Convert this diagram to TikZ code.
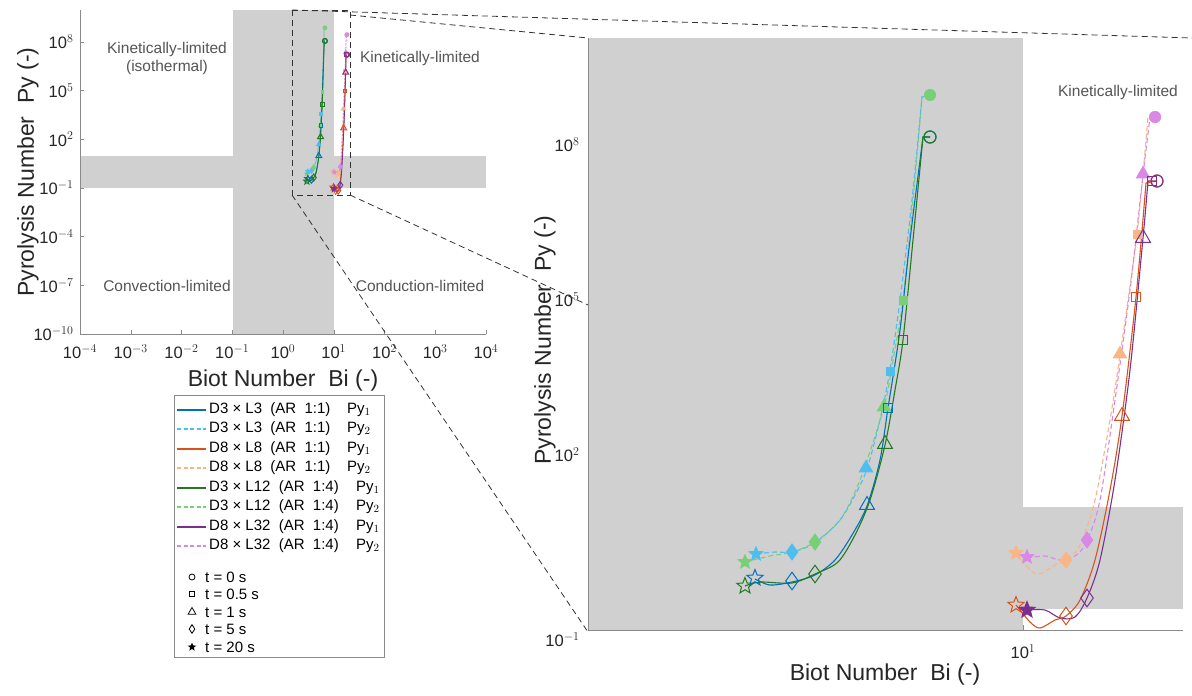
\documentclass[tikz,border=0pt]{standalone}
\usepackage{fontspec}
\setmainfont{Liberation Sans}
\usetikzlibrary{shapes.geometric}
\definecolor{cblue}{HTML}{0072BD}
\definecolor{clblue}{HTML}{4DBEEE}
\definecolor{corange}{HTML}{D95319}
\definecolor{clorange}{HTML}{F9B585}
\definecolor{cgreen}{HTML}{217A21}
\definecolor{clgreen}{HTML}{77CF77}
\definecolor{cpurple}{HTML}{7E2F8E}
\definecolor{clpurple}{HTML}{DA88E8}
\definecolor{bandgray}{HTML}{D0D0D0}
\definecolor{axgray}{HTML}{8A8A8A}
\definecolor{txgray}{HTML}{555555}
\tikzset{
 mcirc/.style={circle,inner sep=0,minimum size=12pt,line width=1.1pt},
 msq/.style={rectangle,inner sep=0,minimum size=9pt,line width=1pt},
 mtri/.style={regular polygon,regular polygon sides=3,inner sep=0,minimum size=17pt,line width=1pt},
 mdia/.style={diamond,inner sep=0,minimum width=13pt,minimum height=18pt,line width=1pt},
 mstar/.style={star,star points=5,star point ratio=2.3,inner sep=0,minimum size=17pt,line width=1pt},
 solidc/.style={line width=1.1pt},
 dashc/.style={line width=1.1pt,dash pattern=on 5pt off 3pt},
 zoomline/.style={black!80,line width=0.8pt,dash pattern=on 6pt off 4pt},
 ticklab/.style={font=\fontsize{16.5}{18}\selectfont,text=black!85},
 region/.style={font=\fontsize{15.5}{18}\selectfont,text=txgray,align=center},
 axlab/.style={font=\fontsize{23}{25}\selectfont,text=black!85},
 leg/.style={font=\fontsize{15}{17}\selectfont,anchor=west,inner sep=0},
}
\newcommand\drawdata{%
 \draw[dashc,clgreen] plot[smooth,tension=0.5] coordinates {(745,562)(770,556)(792,552)(815,542)(840,520)(860,480)(884,407)(893,360)(903,300)(913,200)(922,97)} -- (930,95);
 \draw[dashc,clblue] plot[smooth,tension=0.5] coordinates {(756,554)(775,552)(792,552)(815,543)(840,520)(855,495)(867,469)(880,420)(890,370)(900,300)(912,200)(922,97)} -- (930,95);
 \draw[dashc,clorange] plot[smooth,tension=0.5] coordinates {(1016,553)(1030,570)(1040,574)(1055,565)(1066,560)(1080,545)(1095,500)(1110,420)(1120,355)(1137,234)(1148,117)} -- (1155,117);
 \draw[dashc,clpurple] plot[smooth,tension=0.5] coordinates {(1027,558)(1045,556)(1060,560)(1075,556)(1087,541)(1100,500)(1115,400)(1130,290)(1143,175)(1150,117)} -- (1155,117);
 \draw[solidc,cblue] plot[smooth,tension=0.5] coordinates {(755,579)(770,585)(792,582)(815,575)(835,560)(852,535)(867,506)(880,460)(888,408)(900,330)(910,240)(923,137)} -- (930,137);
 \draw[solidc,cgreen] plot[smooth,tension=0.5] coordinates {(745,586)(760,582)(792,583)(815,574)(838,562)(855,535)(870,500)(885,445)(895,390)(903,340)(913,240)(923,137)} -- (930,137);
 \draw[solidc,corange] plot[smooth,tension=0.5] coordinates {(1016,605)(1030,622)(1040,628)(1055,620)(1066,616)(1080,600)(1095,560)(1110,490)(1122,416)(1136,297)(1146,183)} -- (1157,181);
 \draw[solidc,cpurple] plot[smooth,tension=0.5] coordinates {(1027,610)(1045,610)(1060,618)(1075,617)(1087,598)(1100,560)(1115,480)(1130,370)(1143,238)(1148,181)} -- (1157,181);
 \node[mstar,fill=clgreen] at (745,562) {};
 \node[mstar,fill=clblue] at (756,554) {};
 \node[mdia,fill=clblue] at (792,552) {};
 \node[mdia,fill=clgreen] at (815,542) {};
 \node[mtri,fill=clblue] at (866,468) {};
 \node[mtri,fill=clgreen] at (884,407) {};
 \node[msq,fill=clblue] at (890,371) {};
 \node[msq,fill=clgreen] at (903,300) {};
 \node[mcirc,fill=clgreen] at (930,95) {};
 \node[mstar,fill=clorange] at (1016,553) {};
 \node[mstar,fill=clpurple] at (1027,557) {};
 \node[mdia,fill=clorange] at (1066,560) {};
 \node[mdia,fill=clpurple] at (1087,540) {};
 \node[mtri,fill=clorange] at (1120,354) {};
 \node[msq,fill=clorange] at (1137,234) {};
 \node[mtri,fill=clpurple] at (1143,174) {};
 \node[mcirc,fill=clorange] at (1155,117) {};
 \node[mcirc,fill=clpurple] at (1155,117) {};
 \node[mstar,draw=cblue] at (755,578) {};
 \node[mstar,draw=cgreen] at (745,586) {};
 \node[mdia,draw=cblue] at (792,581) {};
 \node[mdia,draw=cgreen] at (815,574) {};
 \node[mtri,draw=cblue] at (867,505) {};
 \node[mtri,draw=cgreen] at (885,444) {};
 \node[msq,draw=cblue] at (888,408) {};
 \node[msq,draw=cgreen] at (903,340) {};
 \node[mcirc,draw=cblue] at (930,137) {};
 \node[mcirc,draw=cgreen] at (930,137) {};
 \node[mstar,draw=corange] at (1016,605) {};
 \node[mstar,draw=cpurple,fill=cpurple] at (1027,610) {};
 \node[mdia,draw=corange] at (1066,616) {};
 \node[mdia,draw=cpurple] at (1087,598) {};
 \node[mtri,draw=corange] at (1122,416) {};
 \node[msq,draw=corange] at (1136,297) {};
 \node[mtri,draw=cpurple] at (1143,238) {};
 \node[msq,draw=cpurple] at (1152,181) {};
 \node[mcirc,draw=corange] at (1157,181) {};
 \node[mcirc,draw=cpurple] at (1157,181) {};
}
\begin{document}
\begin{tikzpicture}[x=1pt,y=-1pt]
\useasboundingbox[fill=white] (0,0) rectangle (1192,696);
% ===== left plot =====
\fill[bandgray] (233,10) rectangle (334,334);
\fill[bandgray] (80,156) rectangle (486,188);
\draw[axgray,line width=0.6pt] (80,10) -- (80,334) -- (486,334);
\foreach \i/\e in {0/-4,1/-3,2/-2,3/-1,4/0,5/1,6/2,7/3,8/4}{
  \draw[axgray,line width=0.5pt] (80+50.75*\i,334) -- (80+50.75*\i,330);
  \node[ticklab] (xt\i) at (80+50.75*\i,352) {10$^{\e}$};
}
\foreach \i/\e in {0/8,1/5,2/2,3/-1,4/-4,5/-7,6/-10}{
  \draw[axgray,line width=0.5pt] (80,42+48.67*\i) -- (84,42+48.67*\i);
  \node[ticklab,anchor=east] (yt\i) at (77,42+48.67*\i) {10$^{\e}$};
}
\node[region] (r1) at (167,58) {Kinetically-limited\\(isothermal)};
\node[region] (r2) at (420,58) {Kinetically-limited};
\node[region] (r3) at (167,286) {Convection-limited};
\node[region] (r4) at (420,286) {Conduction-limited};
\node[axlab,rotate=90] (ylab1) at (28,172) {Pyrolysis Number~~Py (-)};
\node[axlab] (xlab1) at (283,381) {Biot Number~~Bi (-)};
\begin{scope}[shift={(234.3,-1.875)},xscale=0.09747,yscale=0.3125,every node/.append style={scale=0.4},solidc/.append style={line width=0.8pt},dashc/.append style={line width=0.8pt,dash pattern=on 2pt off 1.5pt}]
\drawdata
\end{scope}
% zoom box and lines
\coordinate (zb1) at (292,10); \coordinate (zb2) at (350,10);
\coordinate (zb3) at (292,195); \coordinate (zb4) at (350,195);
\draw[zoomline] (zb1) rectangle (zb4);
\coordinate (pTR) at (1192,38); \coordinate (pTL) at (588,38);
\coordinate (pBL) at (588,632); \coordinate (pML) at (588,305);
\draw[zoomline] (zb1) -- (pTR);
\draw[zoomline] (350,15) -- (pTL);
\draw[zoomline] (zb3) -- (pBL);
\draw[zoomline] (zb4) -- (pML);
% ===== right plot =====
\fill[bandgray] (588,38) rectangle (1023,630);
\fill[bandgray] (1023,507) rectangle (1183,609);
\draw[axgray,line width=0.6pt] (588,38) -- (588,630) -- (1183,630);
\draw[axgray,line width=0.5pt] (1023,630) -- (1023,625);
\node[ticklab,anchor=east] (ryt1) at (583,145) {10$^{8}$};
\node[ticklab,anchor=east] (ryt2) at (583,300) {10$^{5}$};
\node[ticklab,anchor=east] (ryt3) at (583,455) {10$^{2}$};
\node[ticklab,anchor=east] (ryt4) at (583,640) {10$^{-1}$};
\node[ticklab] (rxt1) at (1023,652) {10$^{1}$};
\node[region] (r5) at (1118,92) {Kinetically-limited};
\node[axlab,rotate=90] (ylab2) at (545,340) {Pyrolysis Number~~Py (-)};
\node[axlab] (xlab2) at (885,675) {Biot Number~~Bi (-)};
\drawdata
% ===== legend =====
\draw[axgray,fill=white,line width=0.6pt] (174,395) rectangle (384,657);
\foreach \y/\c/\s/\t/\p/\px in {
 410/cblue/solidc/D3 × L3~~(AR~~1:1)/1/347,
 429/clblue/dashc/D3 × L3~~(AR~~1:1)/2/347,
 449/corange/solidc/D8 × L8~~(AR~~1:1)/1/347,
 468/clorange/dashc/D8 × L8~~(AR~~1:1)/2/347,
 488/cgreen/solidc/D3 × L12~~(AR~~1:4)/1/356,
 507/clgreen/dashc/D3 × L12~~(AR~~1:4)/2/356,
 527/cpurple/solidc/D8 × L32~~(AR~~1:4)/1/356,
 546/clpurple/dashc/D8 × L32~~(AR~~1:4)/2/356}{
  \draw[\s,\c,dash pattern=on 4pt off 2.5pt,line width=1.1pt] (177,\y) -- (206,\y);
  \ifnum\p=1 \draw[solidc,\c] (177,\y) -- (206,\y); \fi
  \node[leg] at (209,\y) {\t};
  \node[leg] at (\px,\y) {Py$_{\p}$};
}
\node[mcirc,draw=black,minimum size=6pt,line width=0.8pt] (lm1) at (192,577) {};
\node[msq,draw=black,minimum size=5pt,line width=0.8pt] (lm2) at (192,594) {};
\node[mtri,draw=black,minimum size=9pt,line width=0.8pt] (lm3) at (192,612) {};
\node[mdia,draw=black,minimum width=6pt,minimum height=9pt,line width=0.8pt] (lm4) at (192,629) {};
\node[mstar,fill=black,minimum size=9pt] (lm5) at (192,647) {};
\node[leg] at (205,577) {t = 0 s};
\node[leg] at (205,594) {t = 0.5 s};
\node[leg] at (205,612) {t = 1 s};
\node[leg] at (205,629) {t = 5 s};
\node[leg] at (205,647) {t = 20 s};
\end{tikzpicture}
\end{document}
